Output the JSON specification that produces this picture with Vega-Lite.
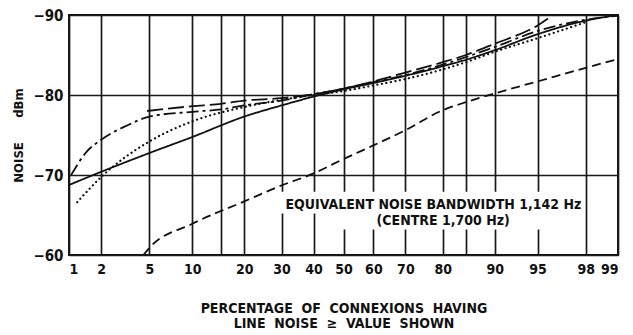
{
  "$schema": "https://vega.github.io/schema/vega-lite/v6.json",
  "width": 549,
  "height": 240,
  "autosize": "none",
  "padding": {"left": 69, "top": 15, "right": 15, "bottom": 80},
  "background": "white",
  "config": {
    "view": {"stroke": "#111", "strokeWidth": 2},
    "axis": {
      "labelFont": "DejaVu Sans Condensed, DejaVu Sans",
      "titleFont": "DejaVu Sans Condensed, DejaVu Sans",
      "labelFontWeight": "bold",
      "titleFontWeight": "bold",
      "labelColor": "#111",
      "titleColor": "#111",
      "gridColor": "#1a1a1a",
      "gridWidth": 1.7,
      "gridOpacity": 1,
      "ticks": false,
      "domain": false
    }
  },
  "datasets": {
    "curves": [
      {"s": "A", "p": 1, "v": -68.75}, {"s": "A", "p": 2, "v": -70.4}, {"s": "A", "p": 5, "v": -72.75}, {"s": "A", "p": 10, "v": -74.75}, {"s": "A", "p": 20, "v": -77.3}, {"s": "A", "p": 30, "v": -78.7}, {"s": "A", "p": 40, "v": -79.8}, {"s": "A", "p": 50, "v": -80.7}, {"s": "A", "p": 60, "v": -81.5}, {"s": "A", "p": 70, "v": -82.4}, {"s": "A", "p": 80, "v": -83.6}, {"s": "A", "p": 85, "v": -84.4}, {"s": "A", "p": 90, "v": -85.6}, {"s": "A", "p": 95, "v": -87.6}, {"s": "A", "p": 98, "v": -89.3}, {"s": "A", "p": 99, "v": -90},
      {"s": "B", "p": 1.05, "v": -70}, {"s": "B", "p": 1.44, "v": -72.75}, {"s": "B", "p": 2, "v": -74.4}, {"s": "B", "p": 3.4, "v": -76.25}, {"s": "B", "p": 5, "v": -77.3}, {"s": "B", "p": 10, "v": -77.9}, {"s": "B", "p": 15, "v": -78.2}, {"s": "B", "p": 20, "v": -78.7}, {"s": "B", "p": 30, "v": -79.3}, {"s": "B", "p": 40, "v": -80.1}, {"s": "B", "p": 50, "v": -80.8}, {"s": "B", "p": 60, "v": -81.6}, {"s": "B", "p": 70, "v": -82.5}, {"s": "B", "p": 80, "v": -83.8}, {"s": "B", "p": 90, "v": -86.0}, {"s": "B", "p": 95, "v": -88.0}, {"s": "B", "p": 98, "v": -89.4}, {"s": "B", "p": 99, "v": -89.9},
      {"s": "C", "p": 4.8, "v": -78.0}, {"s": "C", "p": 10, "v": -78.6}, {"s": "C", "p": 15, "v": -78.9}, {"s": "C", "p": 20, "v": -79.3}, {"s": "C", "p": 30, "v": -79.6}, {"s": "C", "p": 40, "v": -80.1}, {"s": "C", "p": 50, "v": -80.8}, {"s": "C", "p": 60, "v": -81.7}, {"s": "C", "p": 70, "v": -82.8}, {"s": "C", "p": 80, "v": -84.1}, {"s": "C", "p": 85, "v": -85.0}, {"s": "C", "p": 90, "v": -86.4}, {"s": "C", "p": 95, "v": -88.7}, {"s": "C", "p": 96.2, "v": -90},
      {"s": "E", "p": 4.5, "v": -60}, {"s": "E", "p": 5, "v": -60.9}, {"s": "E", "p": 10, "v": -63.9}, {"s": "E", "p": 20, "v": -66.7}, {"s": "E", "p": 30, "v": -68.7}, {"s": "E", "p": 40, "v": -70.2}, {"s": "E", "p": 50, "v": -72.0}, {"s": "E", "p": 60, "v": -73.7}, {"s": "E", "p": 70, "v": -75.6}, {"s": "E", "p": 80, "v": -78.1}, {"s": "E", "p": 85, "v": -79.1}, {"s": "E", "p": 90, "v": -80.2}, {"s": "E", "p": 95, "v": -81.7}, {"s": "E", "p": 98, "v": -83.4}, {"s": "E", "p": 99, "v": -84.5}
    ],
    "dotted": [
      {"s": "D", "p": 1.2, "v": -66.6}, {"s": "D", "p": 2, "v": -69.75}, {"s": "D", "p": 5, "v": -74.2}, {"s": "D", "p": 10, "v": -76.7}, {"s": "D", "p": 20, "v": -78.5}, {"s": "D", "p": 30, "v": -79.4}, {"s": "D", "p": 40, "v": -80.0}, {"s": "D", "p": 50, "v": -80.5}, {"s": "D", "p": 60, "v": -81.2}, {"s": "D", "p": 70, "v": -82.0}, {"s": "D", "p": 80, "v": -83.2}, {"s": "D", "p": 85, "v": -84.1}, {"s": "D", "p": 90, "v": -85.4}, {"s": "D", "p": 95, "v": -87.1}, {"s": "D", "p": 98, "v": -89.1}
    ],
    "mask": [
      {"p1": 29.1, "p2": 97.8, "v1": -67.9, "v2": -65.2},
      {"p1": 47.3, "p2": 95.9, "v1": -65.4, "v2": -63.2}
    ],
    "notes": [
      {"p": 77.7, "v": -66.3, "t": "EQUIVALENT  NOISE  BANDWIDTH 1,142 Hz"},
      {"p": 80.1, "v": -64.3, "t": "(CENTRE  1,700 Hz)"}
    ]
  },
  "layer": [
    {
      "data": {"name": "mask"},
      "transform": [
        {"calculate": "quantileNormal(datum.p1/100)", "as": "z1"},
        {"calculate": "quantileNormal(datum.p2/100)", "as": "z2"}
      ],
      "mark": {"type": "rect", "fill": "white", "stroke": null},
      "encoding": {
        "x": {"field": "z1", "type": "quantitative",
          "scale": {"domain": [-2.3263, 2.3263], "nice": false, "zero": false},
          "axis": {
            "values": [-2.3263, -2.0537, -1.6449, -1.2816, -1.0364, -0.8416, -0.5244, -0.2533, 0, 0.2533, 0.5244, 0.8416, 1.0364, 1.2816, 1.6449, 2.0537, 2.3263],
            "tickCount": 100,
            "labelExpr": "(round(cumulativeNormal(datum.value)*100) == 15 || round(cumulativeNormal(datum.value)*100) == 85) ? '' : '' + round(cumulativeNormal(datum.value)*100)",
            "labelFontSize": 14,
            "labelPadding": 7,
            "labelAngle": 0,
            "labelOverlap": false,
            "title": ["PERCENTAGE\u00a0 OF\u00a0 CONNEXIONS\u00a0 HAVING", "LINE\u00a0 NOISE\u00a0 ≥\u00a0 VALUE\u00a0 SHOWN"],
            "titleFontSize": 14,
            "titleLineHeight": 15,
            "titlePadding": 25,
            "grid": true
          }
        },
        "x2": {"field": "z2"},
        "y": {"field": "v1", "type": "quantitative",
          "scale": {"domain": [-90, -60], "reverse": true, "nice": false, "zero": false},
          "axis": {
            "values": [-90, -80, -70, -60],
            "tickCount": 10,
            "labelFontSize": 15,
            "labelPadding": 6,
            "title": "NOISE\u00a0\u00a0\u00a0\u00a0\u00a0 dBm",
            "titleFontSize": 13,
            "titlePadding": 7,
            "grid": true
          }
        },
        "y2": {"field": "v2"}
      }
    },
    {
      "data": {"name": "curves"},
      "transform": [{"calculate": "quantileNormal(datum.p/100)", "as": "z"}],
      "mark": {"type": "line", "interpolate": "monotone", "strokeWidth": 1.8, "color": "#111"},
      "encoding": {
        "x": {"field": "z", "type": "quantitative"},
        "y": {"field": "v", "type": "quantitative"},
        "detail": {"field": "s"},
        "strokeDash": {"field": "s", "type": "nominal", "legend": null,
          "scale": {"domain": ["A", "B", "C", "E"], "range": [[1, 0], [12, 4, 3, 4], [16, 5], [9, 5]]}}
      }
    },
    {
      "data": {"name": "dotted"},
      "transform": [{"calculate": "quantileNormal(datum.p/100)", "as": "z"}],
      "mark": {"type": "line", "interpolate": "monotone", "strokeWidth": 2.2, "strokeCap": "round", "strokeDash": [0.1, 4.5], "color": "#111"},
      "encoding": {
        "x": {"field": "z", "type": "quantitative"},
        "y": {"field": "v", "type": "quantitative"}
      }
    },
    {
      "data": {"name": "notes"},
      "transform": [{"calculate": "quantileNormal(datum.p/100)", "as": "z"}],
      "mark": {"type": "text", "font": "DejaVu Sans Condensed, DejaVu Sans", "fontWeight": "bold", "fontSize": 14, "color": "#111", "align": "center", "baseline": "middle"},
      "encoding": {
        "x": {"field": "z", "type": "quantitative"},
        "y": {"field": "v", "type": "quantitative"},
        "text": {"field": "t"}
      }
    }
  ]
}
